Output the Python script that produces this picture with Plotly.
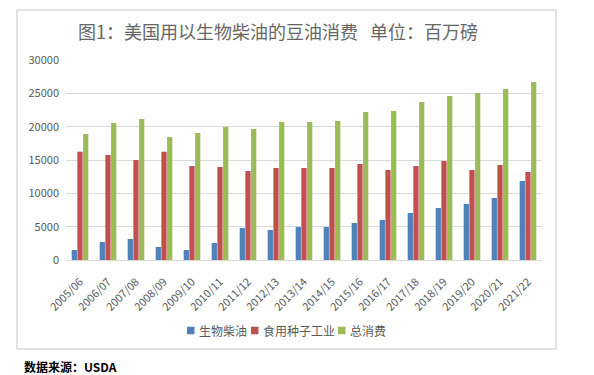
import plotly.graph_objects as go

categories = ["2005/06", "2006/07", "2007/08", "2008/09", "2009/10", "2010/11",
              "2011/12", "2012/13", "2013/14", "2014/15", "2015/16", "2016/17",
              "2017/18", "2018/19", "2019/20", "2020/21", "2021/22"]
biodiesel = [1500, 2700, 3150, 1950, 1500, 2550, 4800, 4500, 4950, 4950,
             5550, 6000, 7050, 7800, 8400, 9300, 11850]
food_industry = [16250, 15750, 15000, 16250, 14100, 13950, 13350, 13800, 13800, 13800,
                 14400, 13500, 14100, 14850, 13500, 14250, 13200]
total = [18900, 20550, 21150, 18450, 19050, 19950, 19650, 20700, 20700, 20850,
         22200, 22350, 23700, 24600, 25050, 25650, 26700]
series_names = ["生物柴油", "食用种子工业", "总消费"]
y_ticks = [0, 5000, 10000, 15000, 20000, 25000, 30000]

colors = ["#4F81BD", "#C0504D", "#9BBB59"]
FONT = "Noto Sans CJK SC, Noto Sans, sans-serif"

fig = go.Figure()
for name, vals, c in zip(series_names, [biodiesel, food_industry, total], colors):
    fig.add_trace(go.Bar(x=categories, y=vals, name=name, marker_color=c,
                         marker_line_width=0))

L, R, T, B = 66, 542, 60, 260
W, H = 594, 375
pw, ph = R - L, B - T

def px_x(x):
    return (x - L) / pw

def px_y(y):
    return (B - y) / ph

fig.update_layout(
    width=W, height=H,
    margin=dict(l=L, r=W - R, t=T, b=H - B, pad=0),
    paper_bgcolor="white", plot_bgcolor="white",
    barmode="group", bargap=0.39, bargroupgap=0.08,
    font=dict(family=FONT, size=11, color="#595959"),
    showlegend=False,
    title=dict(text="图1：美国用以生物柴油的豆油消费&nbsp;&nbsp; 单位：百万磅",
               x=278 / W, y=1 - 33 / H, xanchor="center", yanchor="middle",
               xref="container", yref="container",
               font=dict(family=FONT, size=18, color="#666666")),
)

fig.update_xaxes(
    type="category", tickangle=-45, showgrid=False, showline=True,
    linecolor="#D9D9D9", linewidth=1, ticks="", ticklabelstandoff=10,
    tickfont=dict(size=11, color="#595959"), automargin=False,
)
fig.update_yaxes(
    range=[0, 30000], tickvals=y_ticks, ticktext=[str(v) for v in y_ticks],
    showgrid=True, gridcolor="#D9D9D9", gridwidth=1, zeroline=False,
    showline=False, ticks="", ticklabelstandoff=6,
    tickfont=dict(size=11, color="#595959"), automargin=False,
)

# outer chart frame
fig.add_shape(type="rect", xref="paper", yref="paper",
              x0=px_x(17), x1=px_x(556), y0=px_y(349), y1=px_y(10),
              line=dict(color="#D9D9D9", width=1.5), fillcolor="rgba(0,0,0,0)",
              layer="below")

# legend (compact, like the original)
legend_x = [187, 251, 338]
legend_cy = 330.5
for name, c, lx in zip(series_names, colors, legend_x):
    fig.add_shape(type="rect", xref="paper", yref="paper",
                  x0=px_x(lx), x1=px_x(lx + 7.5),
                  y0=px_y(legend_cy + 3.75), y1=px_y(legend_cy - 3.75),
                  line=dict(width=0), fillcolor=c)
    fig.add_annotation(text=name, xref="paper", yref="paper",
                       x=px_x(lx + 10), y=px_y(legend_cy), xanchor="left",
                       yanchor="middle", showarrow=False,
                       font=dict(family=FONT, size=12, color="#595959"))

fig.add_annotation(text="<b>数据来源：USDA</b>", xref="paper", yref="paper",
                   x=px_x(22), y=px_y(366), xanchor="left", yanchor="middle",
                   showarrow=False, font=dict(family=FONT, size=12, color="#000000"))

fig.write_html("out.html", config={"displayModeBar": False},
               post_script="document.body.style.margin='0px';")
